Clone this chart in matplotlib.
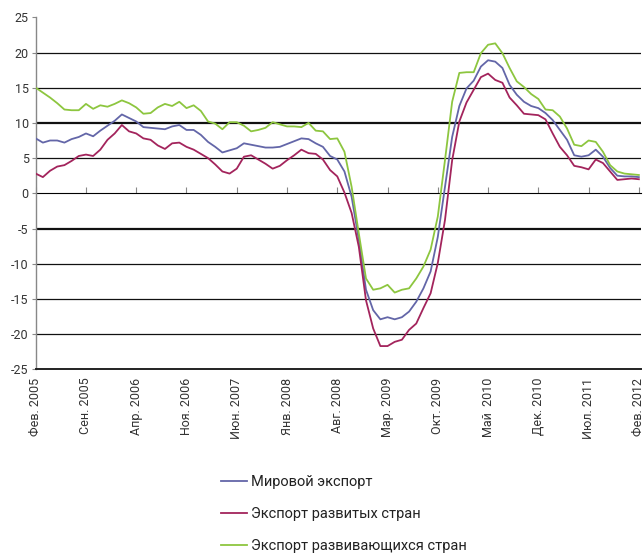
import matplotlib
matplotlib.use("Agg")
import matplotlib.pyplot as plt
import numpy as np

plt.rcParams['font.family'] = ['Roboto', 'DejaVu Sans']

# Month labels (every 7th month, Feb 2005 .. Feb 2012)
tick_labels = ["Фев. 2005", "Сен. 2005", "Апр. 2006", "Ноя. 2006", "Июн. 2007",
               "Янв. 2008", "Авг. 2008", "Мар. 2009", "Окт. 2009", "Май  2010",
               "Дек. 2010", "Июл. 2011", "Фев. 2012"]

world = [7.8, 7.2, 7.5, 7.5, 7.2, 7.7, 8.0, 8.5, 8.1, 8.9, 9.6, 10.3, 11.2, 10.7, 10.2,
         9.4, 9.3, 9.2, 9.1, 9.5, 9.7, 9.0, 9.0, 8.3, 7.3, 6.6, 5.8, 6.1, 6.4, 7.1,
         6.9, 6.7, 6.5, 6.5, 6.6, 7.0, 7.4, 7.8, 7.7, 7.1, 6.6, 5.3, 4.8, 3.1, -0.5,
         -6.6, -13.7, -16.6, -17.9, -17.6, -17.9, -17.6, -16.8, -15.4, -13.5, -11.1, -6.2, 0.9, 8.0,
         12.4, 14.9, 16.0, 18.0, 18.9, 18.7, 17.8, 15.4, 14.0, 13.0, 12.4, 12.1, 11.4, 10.4,
         9.0, 7.6, 5.4, 5.2, 5.4, 6.2, 5.2, 3.6, 2.5, 2.4, 2.4, 2.3]

developed = [2.8, 2.3, 3.2, 3.8, 4.0, 4.6, 5.3, 5.5, 5.3, 6.2, 7.6, 8.5, 9.7, 8.8, 8.5,
             7.8, 7.6, 6.8, 6.3, 7.1, 7.2, 6.6, 6.2, 5.6, 5.0, 4.1, 3.1, 2.8, 3.5, 5.2,
             5.4, 4.8, 4.2, 3.5, 3.9, 4.7, 5.4, 6.2, 5.7, 5.6, 4.8, 3.3, 2.4, 0.1, -2.8,
             -7.6, -15.2, -19.2, -21.7, -21.7, -21.1, -20.8, -19.4, -18.5, -16.3, -14.2, -9.9, -3.8, 4.7,
             10.2, 12.9, 14.7, 16.5, 17.0, 16.1, 15.7, 13.6, 12.5, 11.3, 11.2, 11.1, 10.5, 8.5,
             6.6, 5.4, 3.9, 3.7, 3.4, 4.8, 4.3, 3.1, 1.9, 2.0, 2.1, 2.0]

developing = [15.0, 14.3, 13.6, 12.8, 11.9, 11.8, 11.8, 12.7, 12.0, 12.5, 12.3, 12.7, 13.2, 12.8, 12.2,
              11.3, 11.4, 12.2, 12.7, 12.4, 13.0, 12.1, 12.5, 11.7, 10.2, 9.9, 9.1, 10.1, 10.1, 9.6,
              8.8, 9.0, 9.3, 10.1, 9.8, 9.5, 9.5, 9.4, 10.0, 8.9, 8.8, 7.7, 7.8, 5.9, 0.9,
              -5.7, -12.1, -13.7, -13.5, -13.0, -14.1, -13.7, -13.5, -12.1, -10.4, -8.0, -3.3, 4.7, 13.0,
              17.1, 17.2, 17.2, 19.9, 21.1, 21.3, 19.9, 17.8, 15.9, 15.1, 14.1, 13.4, 11.9, 11.8,
              10.9, 9.2, 6.9, 6.7, 7.5, 7.3, 5.9, 4.0, 3.1, 2.8, 2.7, 2.6]

series_names = ["Мировой экспорт", "Экспорт развитых стран", "Экспорт развивающихся стран"]
colors = ["#6366a8", "#a3245c", "#8dc63f"]

W, H = 644, 555
fig = plt.figure(figsize=(W / 100, H / 100), dpi=100)
ax = fig.add_axes([35.7 / W, (H - 369.3) / H, (641 - 35.7) / W, (369.3 - 17.3) / H])

x = np.arange(len(world))
for y, c, n in zip([world, developed, developing], colors, series_names):
    ax.plot(x, y, color=c, lw=1.3, label=n, zorder=3)

ax.set_xlim(0, 84.3)
ax.set_ylim(-25, 25)

# horizontal gridlines
for v in [20, 15, 10, 5, -5, -10, -15, -20]:
    lw = 1.6 if v in (10, -5) else 0.9
    ax.axhline(v, color="#111111", lw=lw, zorder=1)

ax.set_yticks(np.arange(-25, 26, 5))
ax.set_yticklabels([str(v) for v in range(-25, 26, 5)])
ax.tick_params(axis='y', direction='out', length=3, width=0.8, color="#888888",
               labelsize=9, labelcolor="#333333", pad=2)

ax.set_xticks(np.arange(0, 85, 7))
ax.set_xticklabels(tick_labels, rotation=90, fontsize=9, color="#333333")
ax.tick_params(axis='x', length=0, pad=6)
for lbl in ax.get_xticklabels():
    lbl.set_x(lbl.get_position()[0])

for s in ['top', 'right']:
    ax.spines[s].set_visible(False)
ax.spines['left'].set_color("#888888")
ax.spines['left'].set_linewidth(1.0)
ax.spines['bottom'].set_color("#222222")
ax.spines['bottom'].set_linewidth(1.4)

# category axis crossing at zero
sec = ax.secondary_xaxis(0.5)
sec.set_xticks(np.arange(0, 85, 7))
sec.set_xticklabels([])
sec.tick_params(axis='x', direction='out', length=4, width=0.8, color="#888888")
sec.spines['bottom'].set_color("#999999")
sec.spines['bottom'].set_linewidth(1.0)

fig.legend(loc='upper left', bbox_to_anchor=(221 / W, (H - 475) / H), frameon=False,
           fontsize=10.5, handlelength=1.75, handletextpad=0.3, labelspacing=1.25,
           borderpad=0, borderaxespad=0, labelcolor="#222222")

fig.savefig("out.png", dpi=100)
